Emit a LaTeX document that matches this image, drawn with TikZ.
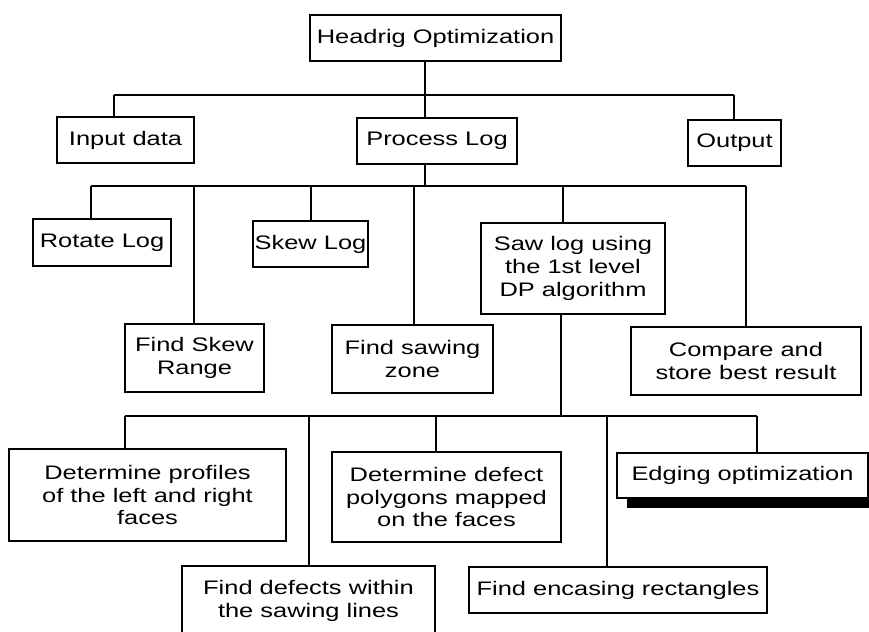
\documentclass[tikz,border=0pt]{standalone}
\usepackage{fontspec}
\setmainfont{Liberation Sans}[FakeStretch=1.3]
\usetikzlibrary{calc}

\begin{document}
\begin{tikzpicture}[
    x=0.03cm, y=-0.03cm,
    task/.style={draw=black, line width=1.4pt, inner sep=0pt, align=center,
      font=\fontsize{16.7}{19.6}\selectfont},
    box/.style 2 args={minimum width=#1*0.03cm, minimum height=#2*0.03cm},
    link/.style={draw=black, line width=1.2pt},
  ]
  \useasboundingbox (0,0) rectangle (869,631);
  \clip (0,0) rectangle (869,631);
  % the tasks
  \node[task, box={251}{46}] (headrig) at (435.5,38) {Headrig Optimization};
  \node[task, box={137}{46}] (input) at (125.5,140) {Input data};
  \node[task, box={160}{46}] (process) at (437,141) {Process Log};
  \node[task, box={93}{46}] (output) at (734.5,143) {Output};
  \node[task, box={138}{47}] (rotate) at (102,242.5) {Rotate Log};
  \node[task, box={115}{46}] (skewlog) at (310.5,244) {Skew Log};
  \node[task, box={184}{91}] (sawlog) at (573,268.5)
    {Saw log using\\the 1st level\\DP algorithm};
  \node[task, box={139}{68}] (skewrange) at (194.5,358) {Find Skew\\Range};
  \node[task, box={161}{68}] (zone) at (412.5,359) {Find sawing\\zone};
  \node[task, box={230}{68}] (compare) at (746,361) {Compare and\\store best result};
  \node[task, box={277}{92}] (profiles) at (147.5,495)
    {Determine profiles\\of the left and right\\faces};
  \node[task, box={229}{90}] (polygons) at (446.5,497)
    {Determine defect\\polygons mapped\\on the faces};
  \node[task, box={251}{45}] (edging) at (742.5,475.5) {Edging optimization};
  \node[task, box={253}{70}] (defects) at (308.5,601) {Find defects within\\the sawing lines};
  \node[task, box={298}{46}] (encasing) at (618,590) {Find encasing rectangles};
  % shadow under the edging box
  \fill[black] ($(edging.south west)+(11,0)$) rectangle (875,508);

  % first level
  \coordinate (bus1) at (425,95);
  \draw[link] (headrig.south -| bus1) -- (bus1);
  \foreach \n/\x in {input/114, process/425, output/734} {
    \coordinate (j-\n) at (\x,95);
    \draw[link] (j-\n) -- (j-\n |- \n.north);
  }
  \draw[link] (j-input) -- (j-output);

  % second level
  \coordinate (bus2) at (425,186);
  \draw[link] (process.south -| bus2) -- (bus2);
  \foreach \n/\x in {rotate/91, skewrange/194, skewlog/311, zone/414, sawlog/563, compare/746} {
    \coordinate (j-\n) at (\x,186);
    \draw[link] (j-\n) -- (j-\n |- \n.north);
  }
  \draw[link] (j-rotate) -- (j-compare);

  % third level
  \coordinate (bus3) at (561,416);
  \draw[link] (sawlog.south -| bus3) -- (bus3);
  \foreach \n/\x in {profiles/125, defects/309, polygons/436, encasing/607, edging/757} {
    \coordinate (j-\n) at (\x,416);
    \draw[link] (j-\n) -- (j-\n |- \n.north);
  }
  \draw[link] (j-profiles) -- (j-edging);
\end{tikzpicture}
\end{document}
